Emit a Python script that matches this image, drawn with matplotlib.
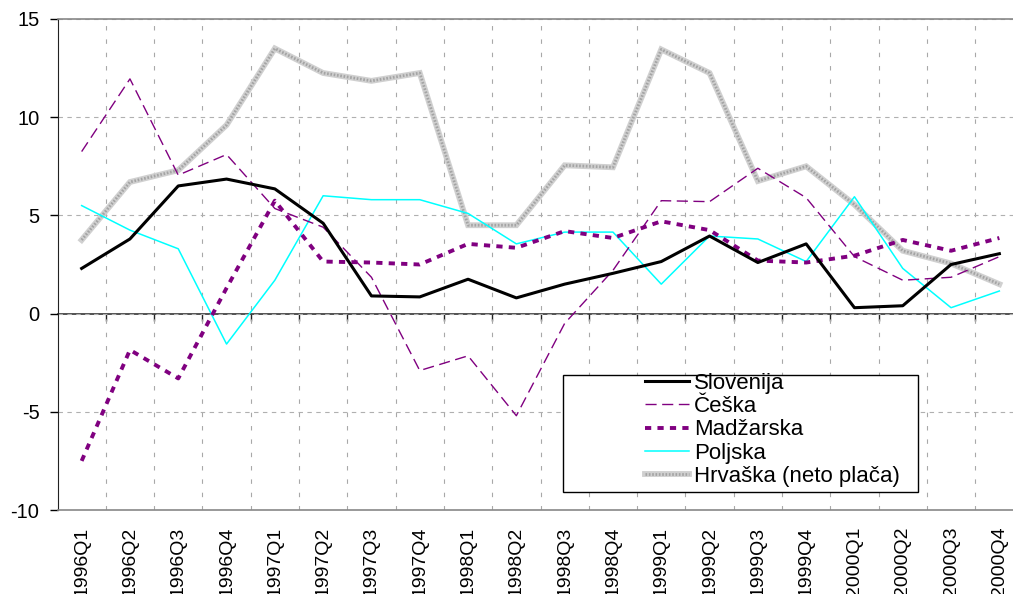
import matplotlib
matplotlib.use("Agg")
import matplotlib.pyplot as plt
from matplotlib.patches import Rectangle

plt.rcParams["font.family"] = ["Liberation Sans", "DejaVu Sans"]
plt.rcParams["axes.unicode_minus"] = False

quarters = ["1996Q1", "1996Q2", "1996Q3", "1996Q4",
            "1997Q1", "1997Q2", "1997Q3", "1997Q4",
            "1998Q1", "1998Q2", "1998Q3", "1998Q4",
            "1999Q1", "1999Q2", "1999Q3", "1999Q4",
            "2000Q1", "2000Q2", "2000Q3", "2000Q4"]

slovenija = [2.3, 3.8, 6.5, 6.85, 6.35, 4.6, 0.9, 0.85, 1.75, 0.8,
             1.5, 2.05, 2.65, 3.95, 2.6, 3.55, 0.3, 0.4, 2.5, 3.05]
ceska = [8.25, 11.95, 7.05, 8.1, 5.35, 4.4, 1.85, -2.9, -2.15, -5.2,
         -0.5, 2.2, 5.75, 5.7, 7.4, 5.9, 2.9, 1.7, 1.85, 2.9]
madzarska = [-7.5, -1.85, -3.3, 1.3, 5.75, 2.65, 2.6, 2.5, 3.55, 3.35,
             4.2, 3.85, 4.7, 4.25, 2.7, 2.6, 2.95, 3.75, 3.2, 3.85]
poljska = [5.5, 4.25, 3.3, -1.55, 1.7, 6.0, 5.8, 5.8, 5.1, 3.55,
           4.15, 4.15, 1.5, 3.95, 3.8, 2.65, 5.95, 2.3, 0.3, 1.15]
hrvaska = [3.75, 6.7, 7.3, 9.6, 13.5, 12.25, 11.85, 12.25, 4.5, 4.5,
           7.55, 7.45, 13.45, 12.25, 6.75, 7.5, 5.55, 3.2, 2.55, 1.5]

W, H = 1013, 594
fig = plt.figure(figsize=(W / 100, H / 100), dpi=100)
# the plot area runs past the right edge of the picture, as in the original
ax = fig.add_axes([57.5 / W, 1 - 510 / H, 966 / W, (510 - 19) / H])

x = list(range(len(quarters)))
purple = "#800080"

ax.plot(x, slovenija, color="black", lw=2.2, label="Slovenija", zorder=5)
ax.plot(x, ceska, color=purple, lw=1.0, dashes=(8, 4), label="Češka", zorder=4)
ax.plot(x, madzarska, color=purple, lw=2.8, dashes=(1.6, 1.6), label="Madžarska", zorder=4)
ax.plot(x, poljska, color="#00ffff", lw=1.1, label="Poljska", zorder=3)
hr_base, = ax.plot(x, hrvaska, color="#d0d0d0", lw=4.2, solid_joinstyle="miter", zorder=2)
hr_top, = ax.plot(x, hrvaska, color="#a4a4a4", lw=2.0, dashes=(0.6, 0.6), zorder=2)

ax.set_xlim(-0.5, len(quarters) - 0.5)
ax.set_ylim(-10, 15)
ax.set_yticks([-10, -5, 0, 5, 10, 15])
ax.tick_params(axis="y", direction="out", length=6, width=1, pad=7, labelsize=14.5)

ax.set_xticks(x)
ax.set_xticklabels(quarters, rotation=90, va="top", fontsize=14)
ax.tick_params(axis="x", length=0, pad=12)
ax.set_xticks([i + 0.5 for i in x[:-1]], minor=True)
ax.tick_params(axis="x", which="minor", length=0)

ax.grid(axis="x", which="minor", color="#a8a8a8", lw=0.8, dashes=(4, 8))
ax.grid(axis="y", which="major", color="#b0b0b0", lw=0.8, dashes=(4, 4))
ax.set_axisbelow(True)

for side in ["top", "bottom"]:
    ax.spines[side].set_color("#888888")
    ax.spines[side].set_linewidth(1.2)
ax.spines["left"].set_color("#222222")
ax.spines["right"].set_visible(False)

# category axis crossing at zero
sec = ax.secondary_xaxis(0.4)
sec.set_xticks([i + 0.5 for i in x[:-1]])
sec.set_xticklabels([])
sec.tick_params(direction="out", length=5, width=1, color="#222222")
sec.spines["bottom"].set_color("#333333")
sec.spines["bottom"].set_linewidth(1.2)

# legend box
fig.patches.append(Rectangle((563 / W, 1 - 492 / H), 355 / W, 117 / H,
                             transform=fig.transFigure, facecolor="white",
                             edgecolor="black", lw=1.0, zorder=6))
handles, labels = ax.get_legend_handles_labels()
handles.append((hr_base, hr_top))
labels.append("Hrvaška (neto plača)")
leg = fig.legend(handles, labels, loc="upper left",
                 bbox_to_anchor=(645 / W, 1 - 373 / H),
                 frameon=False, fontsize=16, handlelength=2.0,
                 handletextpad=0.2, labelspacing=0.1, borderpad=0,
                 borderaxespad=0)
leg.set_zorder(7)

fig.savefig("out.png", dpi=100)
